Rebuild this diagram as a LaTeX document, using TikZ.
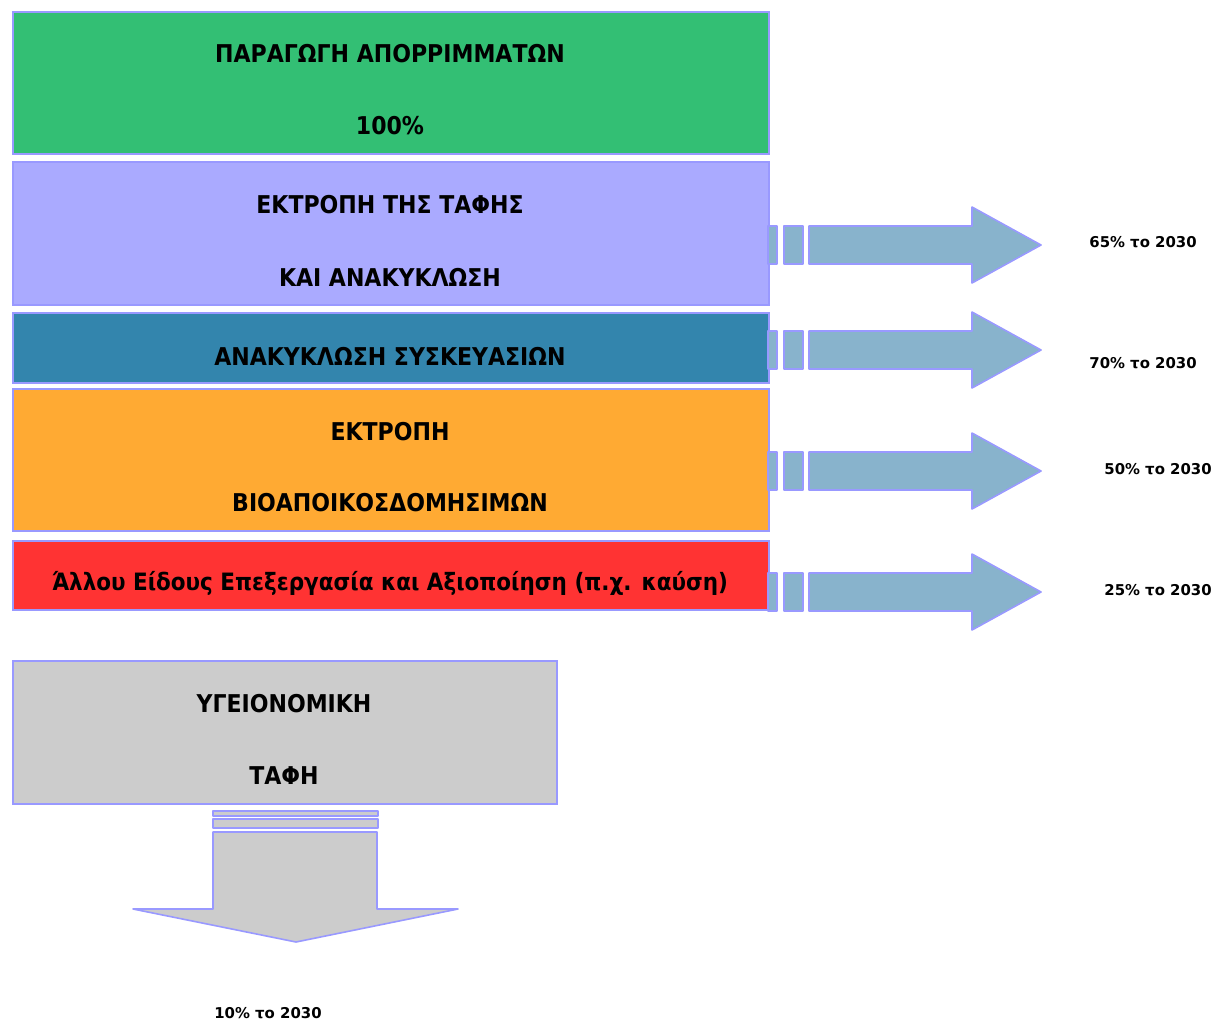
\documentclass[tikz,border=0pt]{standalone}
\usepackage{fontspec}
\setmainfont{DejaVu Sans}
\newfontfamily\boxfont{DejaVu Sans Condensed Bold}
\newfontfamily\labfont{DejaVu Sans Bold}
\definecolor{edge}{RGB}{153,153,255}
\definecolor{cgreen}{RGB}{51,191,116}
\definecolor{clav}{RGB}{170,170,255}
\definecolor{cteal}{RGB}{51,133,173}
\definecolor{corange}{RGB}{255,170,51}
\definecolor{cred}{RGB}{255,51,51}
\definecolor{cgrey}{RGB}{204,204,204}
\definecolor{carrow}{RGB}{136,179,204}
\begin{document}
\begin{tikzpicture}[x=1pt,y=-1pt,
  bx/.style={draw=edge, line width=2.2pt, anchor=north west, inner sep=0pt},
  btxt/.style={font=\boxfont\fontsize{24.5}{28}\selectfont, inner sep=0pt, anchor=center},
  ltxt/.style={font=\labfont\fontsize{14.9}{17}\selectfont, inner sep=0pt, anchor=center},
  arr/.style={draw=edge, line width=1.6pt, line join=round}]
\useasboundingbox (0,0) rectangle (1217,1023);
% boxes
\node[bx, fill=cgreen, minimum width=756pt, minimum height=142pt] (b1) at (12,11) {};
\node[bx, fill=clav, minimum width=756pt, minimum height=143pt] (b2) at (12,161) {};
\node[bx, fill=cteal, minimum width=756pt, minimum height=70pt] (b3) at (12,312) {};
\node[bx, fill=corange, minimum width=756pt, minimum height=142pt] (b4) at (12,388) {};
\node[bx, fill=cred, minimum width=756pt, minimum height=69pt] (b5) at (12,540) {};
\node[bx, fill=cgrey, minimum width=544pt, minimum height=143pt] (b6) at (12,660) {};
% box texts
\node[btxt] (t1a) at (390,54) {ΠΑΡΑΓΩΓΗ ΑΠΟΡΡΙΜΜΑΤΩΝ};
\node[btxt] (t1b) at (390,126) {100\%};
\node[btxt] (t2a) at (390,205) {ΕΚΤΡΟΠΗ ΤΗΣ ΤΑΦΗΣ};
\node[btxt] (t2b) at (390,277) {ΚΑΙ ΑΝΑΚΥΚΛΩΣΗ};
\node[btxt] (t3) at (390,356) {ΑΝΑΚΥΚΛΩΣΗ ΣΥΣΚΕΥΑΣΙΩΝ};
\node[btxt] (t4a) at (390,432) {ΕΚΤΡΟΠΗ};
\node[btxt] (t4b) at (390,503) {ΒΙΟΑΠΟΙΚΟΣΔΟΜΗΣΙΜΩΝ};
\node[btxt, font=\boxfont\fontsize{23.9}{28}\selectfont] (t5) at (390,583) {Άλλου Είδους Επεξεργασία και Αξιοποίηση (π.χ. καύση)};
\node[btxt] (t6a) at (284,704) {ΥΓΕΙΟΝΟΜΙΚΗ};
\node[btxt] (t6b) at (284,776) {ΤΑΦΗ};
% right arrows
\foreach \cy/\nm in {245/a1,350/a2,471/a3,592/a4}{
  \draw[arr, fill=carrow] (768,\cy-19) rectangle (777,\cy+19);
  \draw[arr, fill=carrow] (784,\cy-19) rectangle (803,\cy+19);
  \draw[arr, fill=carrow] (809,\cy-19) -- (972,\cy-19) -- (972,\cy-38) -- (1041,\cy)
     coordinate (\nm) -- (972,\cy+38) -- (972,\cy+19) -- (809,\cy+19) -- cycle;
}
% labels
\node[ltxt] (l1) at (1143,242) {65\% το 2030};
\node[ltxt] (l2) at (1143,363) {70\% το 2030};
\node[ltxt] (l3) at (1158,469) {50\% το 2030};
\node[ltxt] (l4) at (1158,590) {25\% το 2030};
% down arrow
\draw[arr, fill=cgrey] (213,811) rectangle (378,816);
\draw[arr, fill=cgrey] (213,819) rectangle (378,828);
\draw[arr, fill=cgrey] (213,832) -- (377,832) -- (377,909) -- (458,909) -- (296,942)
   coordinate (dtip) -- (133,909) -- (213,909) -- cycle;
\node[ltxt] (l5) at (268,1013) {10\% το 2030};
\end{tikzpicture}
\end{document}
